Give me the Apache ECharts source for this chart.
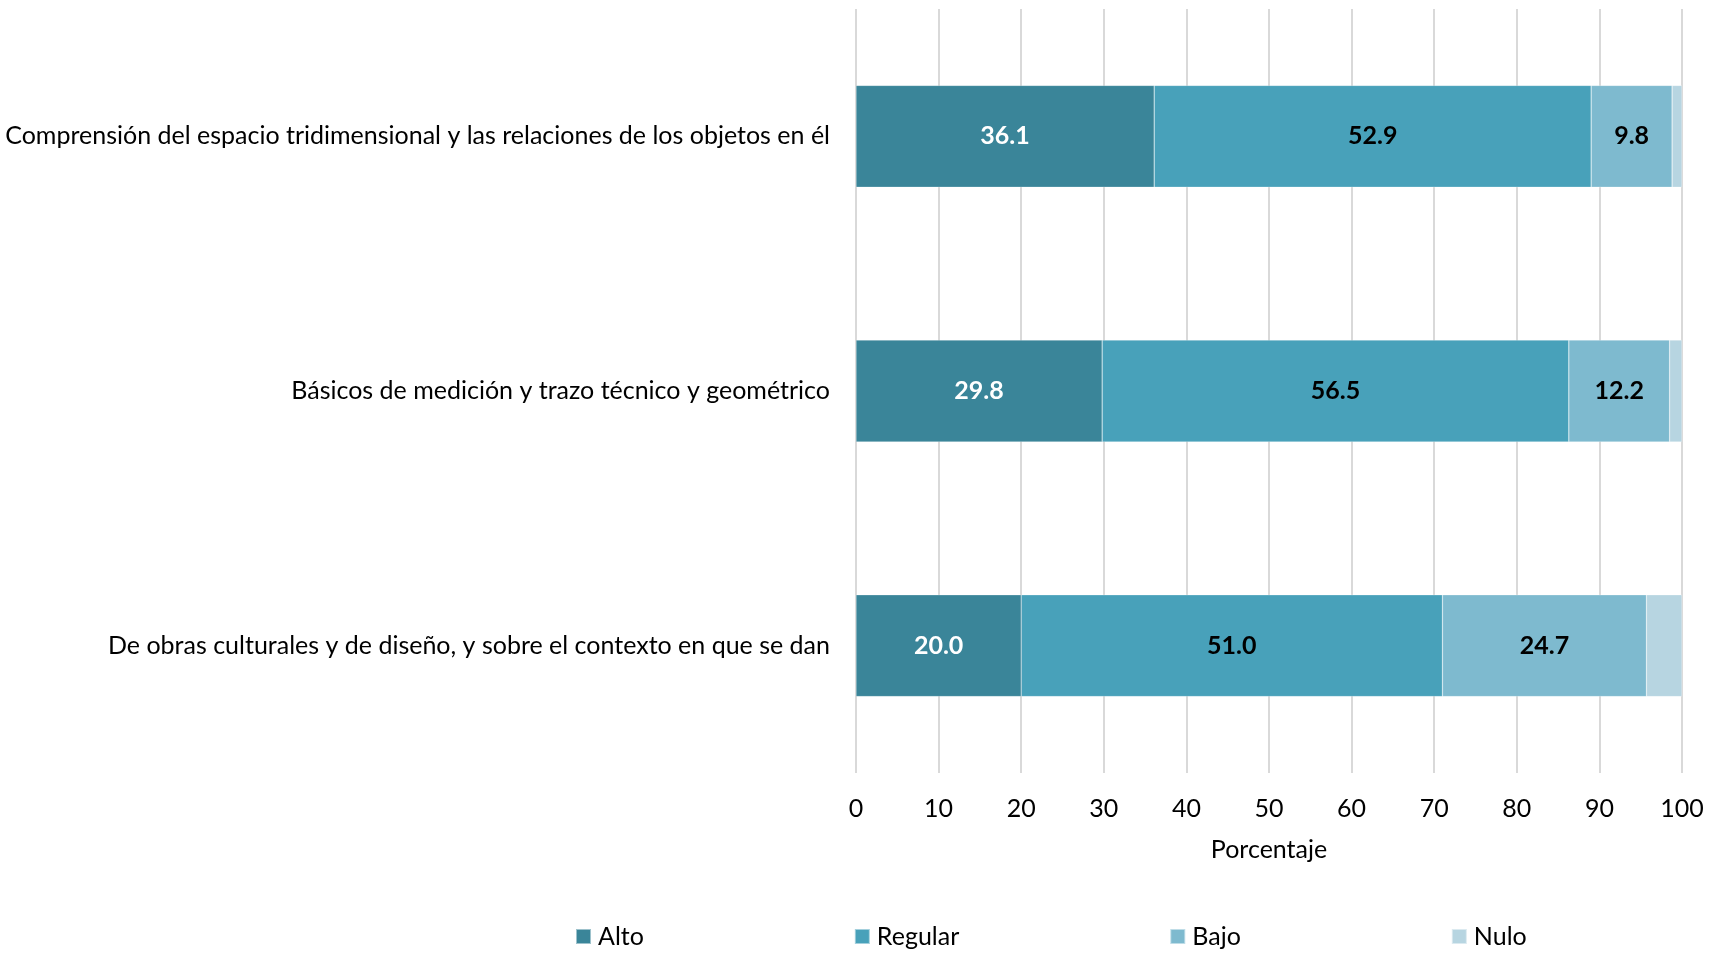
<!DOCTYPE html>
<html><head><meta charset="utf-8">
<script src="https://cdn.jsdelivr.net/npm/echarts@6/dist/echarts.min.js"></script>
<style>html,body{margin:0;padding:0;background:#fff}#c{width:1719px;height:954px}</style>
</head><body><div id="c"></div>
<script>
const categories = [
  "Comprensión del espacio tridimensional y las relaciones de los objetos en él",
  "Básicos de medición y trazo técnico y geométrico",
  "De obras culturales y de diseño, y sobre el contexto en que se dan"
];
const alto = [36.1, 29.8, 20.0];
const regular = [52.9, 56.5, 51.0];
const bajo = [9.8, 12.2, 24.7];
const nulo = [1.2, 1.5, 4.3];
const seriesNames = ["Alto", "Regular", "Bajo", "Nulo"];
const xTicks = [0, 10, 20, 30, 40, 50, 60, 70, 80, 90, 100];

const FONT = "Lato";
const FS = 25;
const colors = ["#3A8599", "#48A1BA", "#7EBACF", "#B7D5E1"];
const labelColors = ["#ffffff", "#000000", "#000000", null];
const data = [alto, regular, bajo, nulo];

const chart = echarts.init(document.getElementById('c'));
chart.setOption({
  animation: false,
  textStyle: {fontFamily: FONT},
  grid: {left: 856, right: 37, top: 9, bottom: 181, containLabel: false},
  legend: {
    data: seriesNames, bottom: 0, left: 570,
    itemWidth: 15, itemHeight: 15, itemGap: 210, icon: 'rect',
    textStyle: {fontFamily: FONT, fontSize: FS, color: '#000', padding: [0,0,0,2]}
  },
  xAxis: {
    type: 'value', min: 0, max: 100, interval: 10,
    name: 'Porcentaje', nameLocation: 'middle', nameGap: 64,
    nameTextStyle: {fontFamily: FONT, fontSize: FS, color: '#000'},
    axisLine: {show: false}, axisTick: {show: false},
    axisLabel: {fontFamily: FONT, fontSize: FS, color: '#000', margin: 23,
      formatter: v => xTicks.includes(v) ? String(v) : ''},
    splitLine: {lineStyle: {color: '#D9D9D9', width: 2}}
  },
  yAxis: {
    type: 'category', data: categories, inverse: true,
    axisLine: {show: false}, axisTick: {show: false},
    axisLabel: {fontFamily: FONT, fontSize: FS, color: '#000', margin: 26}
  },
  series: seriesNames.map((n, i) => ({
    name: n, type: 'bar', stack: 'total', data: data[i],
    barCategoryGap: '60%',
    itemStyle: {color: colors[i], borderColor: 'rgba(255,255,255,0.5)', borderWidth: 0.5},
    label: {
      show: labelColors[i] !== null, position: 'inside',
      color: labelColors[i] || '#000', fontWeight: 'bold', fontSize: FS, fontFamily: FONT,
      formatter: p => p.value.toFixed(1)
    }
  }))
});
</script></body></html>
